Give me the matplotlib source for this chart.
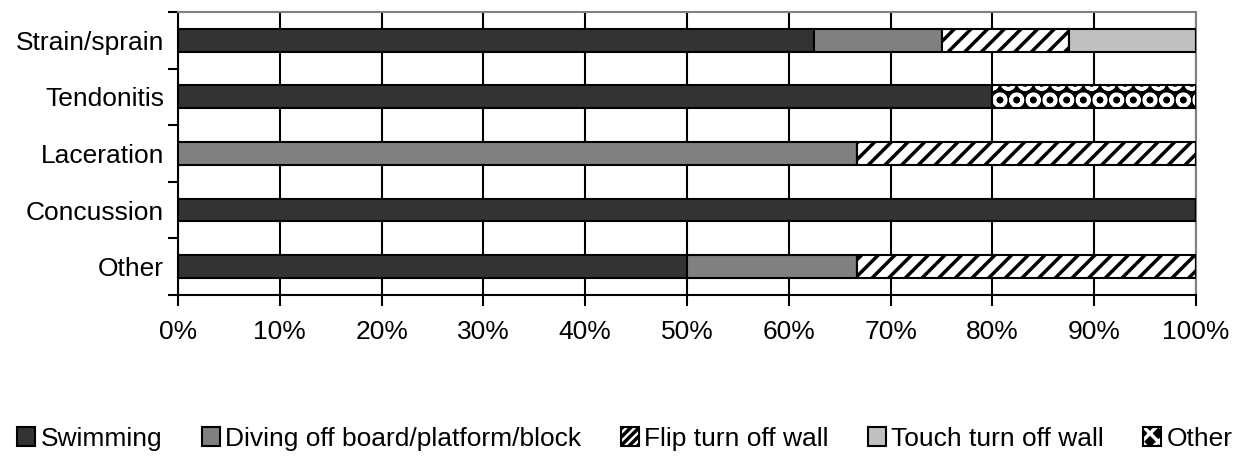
import numpy as np
import matplotlib
matplotlib.use("Agg")
import matplotlib.pyplot as plt
from matplotlib.patches import Patch
from matplotlib.ticker import FixedLocator, PercentFormatter

categories = ["Strain/sprain", "Tendonitis", "Laceration", "Concussion", "Other"]
series = ["Swimming", "Diving off board/platform/block", "Flip turn off wall",
          "Touch turn off wall", "Other"]

# share of injuries (%) per mechanism
swimming = [62.5, 80.0, 0.0, 100.0, 50.0]
diving = [12.5, 0.0, 66.7, 0.0, 16.7]
flip_turn = [12.5, 0.0, 33.3, 0.0, 33.3]
touch_turn = [12.5, 0.0, 0.0, 0.0, 0.0]
other = [0.0, 20.0, 0.0, 0.0, 0.0]

values = [swimming, diving, flip_turn, touch_turn, other]

plt.rcParams['font.family'] = ['Liberation Sans', 'DejaVu Sans']
plt.rcParams['hatch.linewidth'] = 2.5

fig = plt.figure(figsize=(12.45, 4.57), dpi=100)
ax = fig.add_axes([0.143, 0.3545, 0.8177, 0.6195])

y = np.arange(len(categories))
h = 0.4
left = np.zeros(len(categories))
handles = []
for k, (name, vals) in enumerate(zip(series, values)):
    vals = np.array(vals)
    if k == 0:
        ax.barh(y, vals, h, left=left, color="#333333", edgecolor="black", lw=1.5, zorder=3)
        handles.append(Patch(facecolor="#333333", edgecolor="black", lw=1.5))
    elif k == 1:
        ax.barh(y, vals, h, left=left, color="#808080", edgecolor="black", lw=1.5, zorder=3)
        handles.append(Patch(facecolor="#808080", edgecolor="black", lw=1.5))
    elif k == 2:
        ax.barh(y, vals, h, left=left, color="white", edgecolor="black", hatch="//", lw=1.5, zorder=3)
        handles.append(Patch(facecolor="white", edgecolor="black", hatch="////", lw=1.5))
    elif k == 3:
        ax.barh(y, vals, h, left=left, color="#c0c0c0", edgecolor="black", lw=1.5, zorder=3)
        handles.append(Patch(facecolor="#c0c0c0", edgecolor="black", lw=1.5))
    else:
        ax.barh(y, vals, h, left=left, color="black", edgecolor="white", hatch="O", lw=0, zorder=3)
        ax.barh(y, vals, h, left=left, fill=False, edgecolor="black", lw=1.5, zorder=4)
        handles.append((Patch(facecolor="black", edgecolor="white", hatch="xx", lw=0),
                        Patch(fill=False, edgecolor="black", lw=1.5)))
    left = left + vals

ax.set_xlim(0, 100)
ax.set_ylim(len(categories) - 0.5, -0.5)
ax.xaxis.set_major_locator(FixedLocator(np.arange(0, 101, 10)))
ax.xaxis.set_major_formatter(PercentFormatter(decimals=0))
ax.grid(axis="x", color="black", lw=1.5, zorder=0)
ax.set_axisbelow(True)

ax.yaxis.set_major_locator(FixedLocator(np.arange(-0.5, len(categories), 1)))
ax.yaxis.set_major_formatter(plt.NullFormatter())
ax.yaxis.set_minor_locator(FixedLocator(y))
ax.set_yticklabels(categories, minor=True)
ax.tick_params(axis="y", which="minor", length=0, labelsize=19, pad=10)
ax.tick_params(axis="y", which="major", length=7, width=1.5, color="black")
ax.tick_params(axis="x", length=8, width=1.5, labelsize=19, pad=10)

for s in ["top", "right"]:
    ax.spines[s].set_color("#808080")
    ax.spines[s].set_linewidth(1.5)
for s in ["left", "bottom"]:
    ax.spines[s].set_color("black")
    ax.spines[s].set_linewidth(1.5)

fig.legend(handles, series, loc="center", bbox_to_anchor=(0.502, 0.04), ncol=5,
           frameon=False, fontsize=19, handlelength=0.68, handleheight=0.68,
           handletextpad=0.2, columnspacing=1.5)

fig.savefig("out.png", dpi=100)
